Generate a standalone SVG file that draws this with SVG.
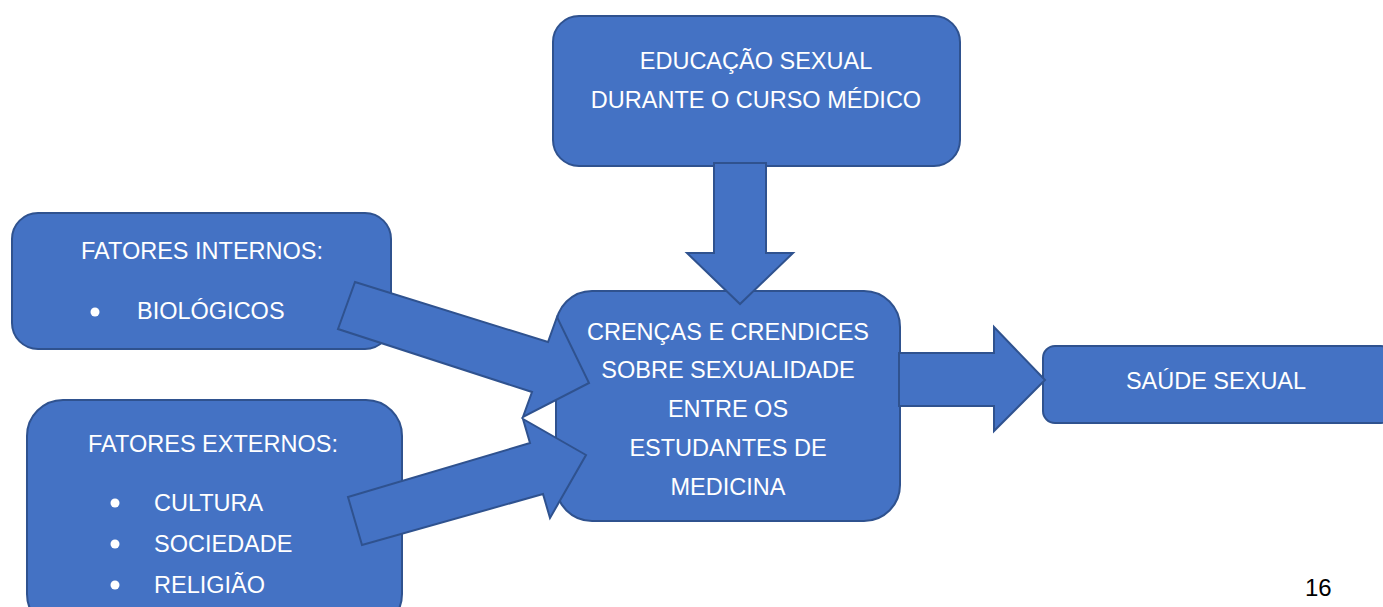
<svg xmlns="http://www.w3.org/2000/svg" width="1383" height="607" viewBox="0 0 1383 607">
<style>
.box{fill:#4472C4;stroke:#2F528F;stroke-width:2}
.arr{fill:#4472C4;stroke:#2F528F;stroke-width:2;stroke-linejoin:miter}
.t{fill:#FFFFFF;font-family:"Liberation Sans",Arial,sans-serif;font-size:23.5px}
.c{text-anchor:middle}
</style>
<rect width="1383" height="607" fill="#FFFFFF"/>
<g id="educacao">
<rect class="box" x="553" y="16" width="407" height="150" rx="26"/>
<text class="t c" x="756" y="69">EDUCAÇÃO SEXUAL</text>
<text class="t c" x="756" y="108">DURANTE O CURSO MÉDICO</text>
</g>
<g id="internos">
<rect class="box" x="12" y="213" width="379" height="136" rx="26"/>
<text class="t c" x="202" y="259">FATORES INTERNOS:</text>
<circle cx="95" cy="312" r="4.5" fill="#FFFFFF"/>
<text class="t" x="137" y="319">BIOLÓGICOS</text>
</g>
<g id="externos">
<rect class="box" x="27" y="400" width="375" height="230" rx="36"/>
<text class="t c" x="213" y="452">FATORES EXTERNOS:</text>
<circle cx="115" cy="503" r="4.5" fill="#FFFFFF"/>
<text class="t" x="154" y="511">CULTURA</text>
<circle cx="115" cy="544" r="4.5" fill="#FFFFFF"/>
<text class="t" x="154" y="552">SOCIEDADE</text>
<circle cx="115" cy="585" r="4.5" fill="#FFFFFF"/>
<text class="t" x="154" y="593">RELIGIÃO</text>
</g>
<g id="crencas">
<rect class="box" x="556" y="291" width="344" height="230" rx="36"/>
<text class="t c" x="728" y="340">CRENÇAS E CRENDICES</text>
<text class="t c" x="728" y="378">SOBRE SEXUALIDADE</text>
<text class="t c" x="728" y="417">ENTRE OS</text>
<text class="t c" x="728" y="456">ESTUDANTES DE</text>
<text class="t c" x="728" y="495">MEDICINA</text>
</g>
<g id="saude">
<rect class="box" x="1043" y="346" width="350" height="77" rx="12"/>
<text class="t c" x="1216" y="389">SAÚDE SEXUAL</text>
</g>
<g id="connectors">
<polygon class="arr" points="714,163 766,163 766,253 793,253 740,304 687,253 714,253"/>
<polygon class="arr" points="899,353 994,353 994,327 1045,380 994,431 994,406 899,406"/>
<polygon class="arr" points="355,282 548,342 557,317 589,383 523,417 532,392 338,329"/>
<polygon class="arr" points="348,497 530,443 523,419 586,455 550,518 543,494 362,545"/>
</g>
<text x="1305" y="596" font-family="Liberation Sans,Arial,sans-serif" font-size="24" fill="#000000">16</text>
</svg>
